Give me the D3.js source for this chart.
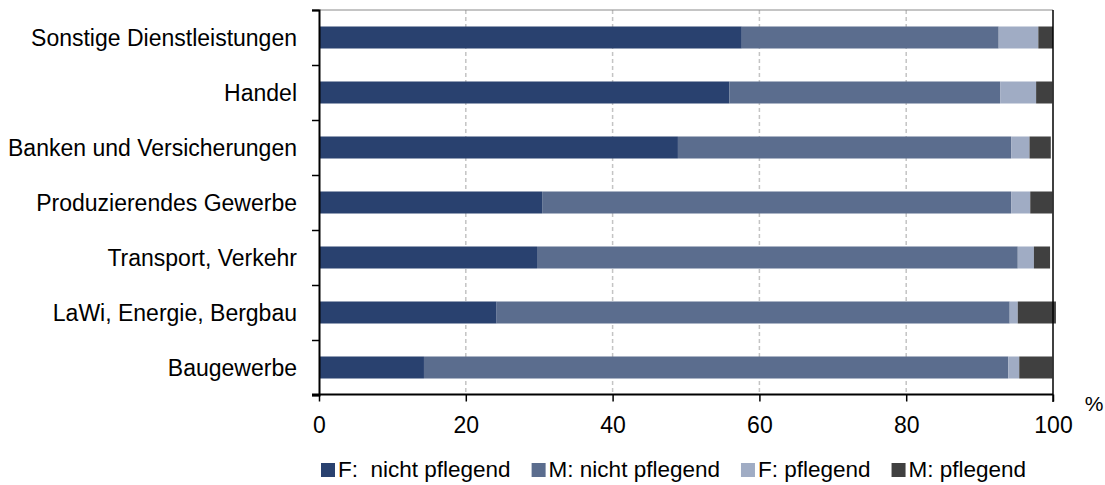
<!DOCTYPE html>
<html>
<head>
<meta charset="utf-8">
<script src="https://cdn.jsdelivr.net/npm/d3@7"></script>
<style>
  body { margin: 0; background: #fff; }
  text { font-family: "Liberation Sans", Arial, sans-serif; fill: #000; }
</style>
</head>
<body>
<div id="container"></div>
<script>
let width = 1105;
let height = 485;

// sectors, top to bottom
let categories = [
  "Sonstige Dienstleistungen",
  "Handel",
  "Banken und Versicherungen",
  "Produzierendes Gewerbe",
  "Transport, Verkehr",
  "LaWi, Energie, Bergbau",
  "Baugewerbe"
];

let series_names = ["F:  nicht pflegend", "M: nicht pflegend", "F: pflegend", "M: pflegend"];
let series_colors = ["#29416f", "#5b6d8e", "#a0acc4", "#404040"];

// shares in % per sector
let f_nicht = [57.6, 55.9, 48.9, 30.4, 29.7, 24.2, 14.3];
let m_nicht = [35.0, 36.9, 45.4, 63.9, 65.5, 69.9, 79.6];
let f_pfleg = [5.4, 4.9, 2.5, 2.6, 2.2, 1.1, 1.5];
let m_pfleg = [2.0, 2.2, 2.9, 3.0, 2.2, 5.2, 4.5];

let x_ticks = [0, 20, 40, 60, 80, 100];

let svg = d3.select("#container")
  .append("svg")
  .attr("width", width)
  .attr("height", height);

let x = d3.scaleLinear().domain([0, 100]).range([319, 1053]);
let y = d3.scaleBand().domain(categories).range([10, 395]).paddingInner(0.6).paddingOuter(0.3);

// gridlines
svg.append("g")
  .selectAll("line")
  .data(x_ticks.filter(d => d > 0 && d < 100))
  .enter()
  .append("line")
  .attr("x1", d => x(d))
  .attr("x2", d => x(d))
  .attr("y1", 10)
  .attr("y2", 395)
  .attr("stroke", "#c4c4c4")
  .attr("stroke-width", 1.5)
  .attr("stroke-dasharray", "4,3");

// top border
svg.append("line")
  .attr("x1", 312).attr("x2", x(100))
  .attr("y1", 10).attr("y2", 10)
  .attr("stroke", "#8a8a8a")
  .attr("stroke-width", 1);

// stacked bars
let rows = categories.map(function (c, i) {
  return { cat: c, vals: [f_nicht[i], m_nicht[i], f_pfleg[i], m_pfleg[i]] };
});
let stack = d3.stack().keys([0, 1, 2, 3]).value((d, k) => d.vals[k]);
let layers = stack(rows);

svg.append("g")
  .selectAll("g")
  .data(layers)
  .enter()
  .append("g")
  .attr("fill", d => series_colors[d.key])
  .selectAll("rect")
  .data(d => d)
  .enter()
  .append("rect")
  .attr("x", d => x(d[0]))
  .attr("width", d => x(d[1]) - x(d[0]))
  .attr("y", d => y(d.data.cat))
  .attr("height", y.bandwidth());

// right border
svg.append("line")
  .attr("x1", x(100)).attr("x2", x(100))
  .attr("y1", 10).attr("y2", 402)
  .attr("stroke", "#000")
  .attr("stroke-width", 1.5);

// y axis: ticks between the bands
let y_idx = d3.scaleLinear().domain([0, categories.length]).range([10, 395]);
let y_axis = svg.append("g")
  .attr("transform", "translate(319,0)")
  .call(d3.axisLeft(y_idx).tickValues(d3.range(categories.length + 1)).tickSize(7).tickFormat(""));
y_axis.select(".domain").attr("stroke-width", 2);
y_axis.selectAll(".tick line").attr("stroke-width", 1.5);

// category labels
svg.append("g")
  .selectAll("text")
  .data(categories)
  .enter()
  .append("text")
  .attr("x", 297)
  .attr("y", d => y(d) + y.bandwidth() / 2)
  .attr("dy", "0.35em")
  .attr("text-anchor", "end")
  .style("font-size", "23px")
  .text(d => d);

// x axis
let x_axis = svg.append("g")
  .attr("transform", "translate(0,394.5)")
  .call(d3.axisBottom(x).tickValues(x_ticks).tickSize(7).tickPadding(15));
x_axis.select(".domain").attr("stroke-width", 2).attr("d", "M312,0H" + x(100));
x_axis.selectAll(".tick line").attr("stroke-width", 1.5);
x_axis.selectAll("text")
  .style("font-size", "23px")
  .style("font-family", "'Liberation Sans', Arial, sans-serif");

svg.append("text")
  .attr("x", 1094)
  .attr("y", 411)
  .attr("text-anchor", "middle")
  .style("font-size", "21px")
  .text("%");

// legend
let legend = svg.append("g");
let lx = 321;
series_names.forEach(function (name, i) {
  legend.append("rect")
    .attr("x", lx)
    .attr("y", 463)
    .attr("width", 14)
    .attr("height", 14)
    .attr("fill", series_colors[i]);
  let t = legend.append("text")
    .attr("x", lx + 17)
    .attr("y", 477)
    .style("font-size", "22.5px")
    .style("white-space", "pre")
    .text(name);
  lx = lx + 17 + t.node().getComputedTextLength() + 21;
});
</script>
</body>
</html>
